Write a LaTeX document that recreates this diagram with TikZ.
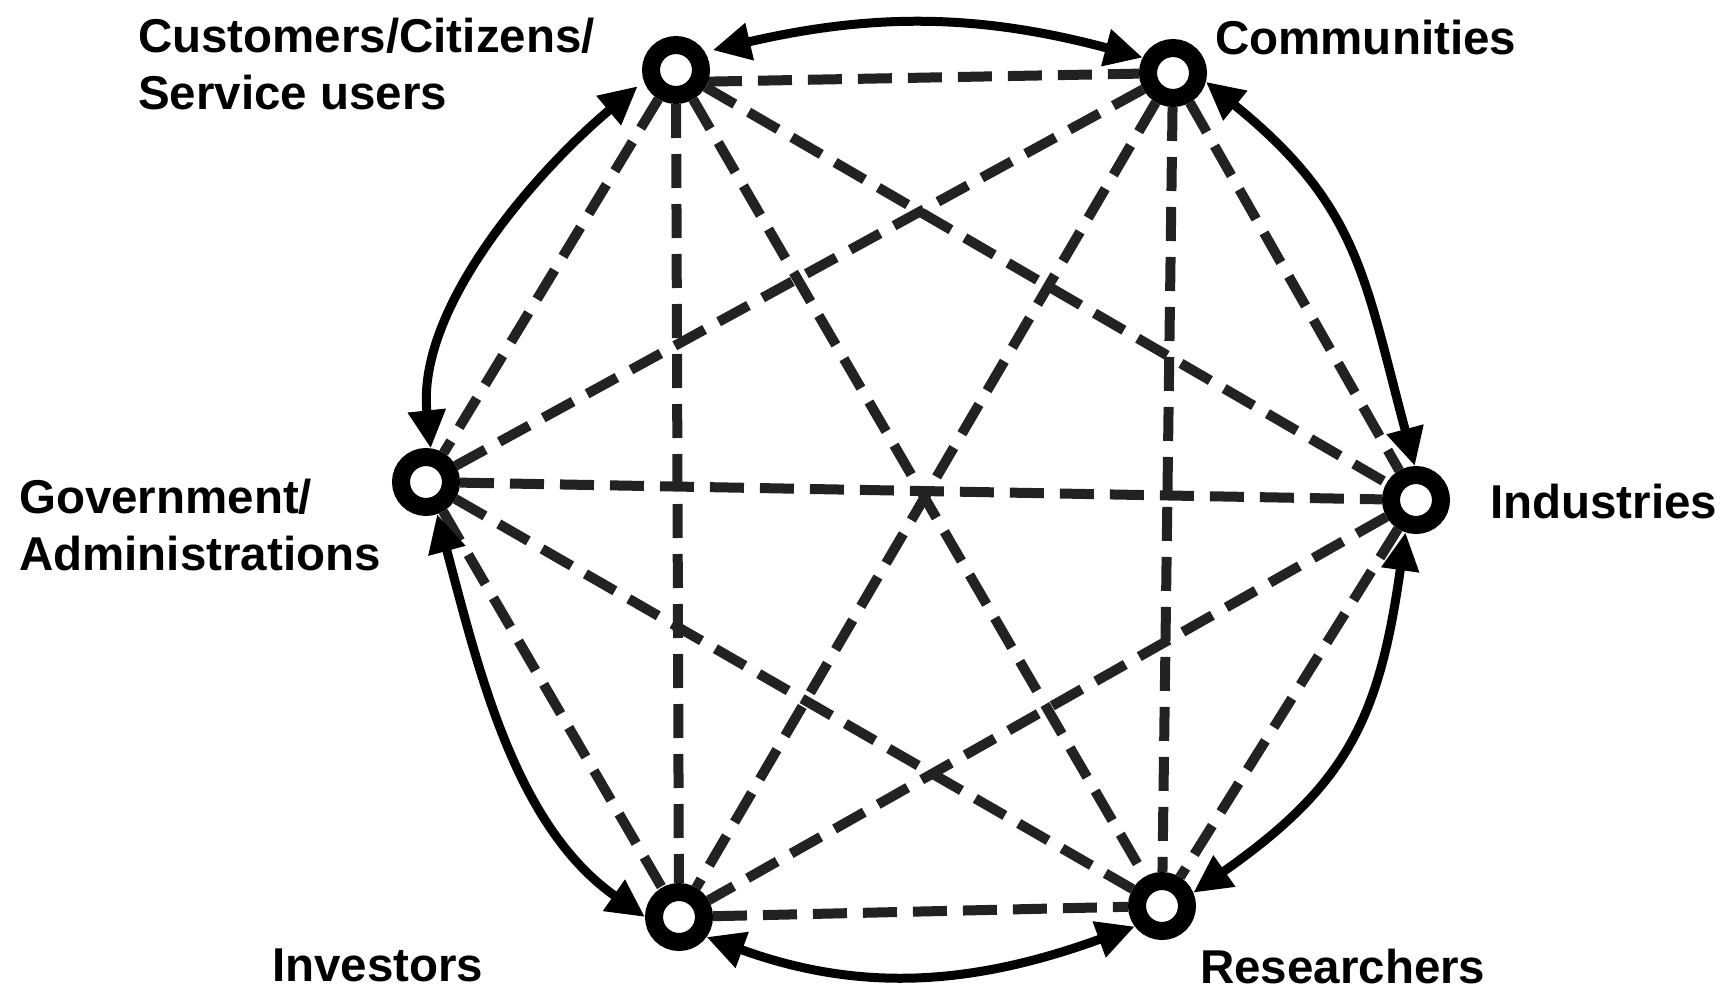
\documentclass[tikz,border=0pt]{standalone}
\usepackage{fontspec}
\setmainfont{Liberation Sans}
\usetikzlibrary{arrows.meta,backgrounds}
\definecolor{dashgray}{RGB}{34,34,34}
\begin{document}
\begin{tikzpicture}[x=1pt,y=-1pt,
  ring/.style={circle,draw=black,line width=18pt,fill=white,minimum size=50pt,inner sep=0pt},
  dline/.style={draw=dashgray,line width=10pt,dash pattern=on 34pt off 16pt},
  arr/.style={draw=black,line width=9pt,{Triangle[length=38pt,width=36pt]}-{Triangle[length=38pt,width=36pt]}},
  lbl/.style={font=\bfseries\fontsize{47.5}{57}\selectfont,inner sep=0pt,align=left}]
\useasboundingbox (0,0) rectangle (1727,990);
\node[ring] (cust) at (676,70) {};
\node[ring] (comm) at (1173,73) {};
\node[ring] (ind) at (1416,500) {};
\node[ring] (res) at (1162,906) {};
\node[ring] (inv) at (679,917) {};
\node[ring] (gov) at (426,482) {};
\begin{scope}[on background layer]
\draw[dline] (cust.-20) -- (comm);
\draw[dline] (cust) -- (ind);
\draw[dline] (cust) -- (res);
\draw[dline] (cust) -- (inv);
\draw[dline] (cust) -- (gov);
\draw[dline] (comm) -- (gov);
\draw[dline] (comm) -- (inv);
\draw[dline] (comm) -- (res);
\draw[dline] (comm) -- (ind);
\draw[dline] (gov) -- (ind);
\draw[dline] (gov) -- (res);
\draw[dline] (gov) -- (inv);
\draw[dline] (ind) -- (inv);
\draw[dline] (ind) -- (res);
\draw[dline] (inv) -- (res);
\end{scope}
\draw[arr,shorten <=8pt] (cust.32) to[out=13,in=165] (comm.153);
\draw[arr] (comm.-15) to[out=-39,in=105,looseness=1.15] (ind.92);
\draw[arr] (ind.252) to[out=262,in=35,looseness=1.15] (res.23);
\draw[arr] (res.217) to[out=200,in=-20] (inv.-36);
\draw[arr] (inv.180) to[out=145,in=-75,looseness=0.9] (gov.-71);
\draw[arr,shorten >=8pt] (gov.82) to[out=96,in=220,looseness=0.85] (cust.199);
\node[lbl,anchor=base west] (lcust) at (138,109) {Customers/Citizens/\\Service users};
\node[lbl,anchor=base west] (lcomm) at (1215,55) {Communities};
\node[lbl,anchor=base west] (lind) at (1490,518) {Industries};
\node[lbl,anchor=base west] (lgov) at (19,570) {Government/\\Administrations};
\node[lbl,anchor=base west] (linv) at (272,981) {Investors};
\node[lbl,anchor=base west] (lres) at (1200,983) {Researchers};
\end{tikzpicture}
\end{document}
